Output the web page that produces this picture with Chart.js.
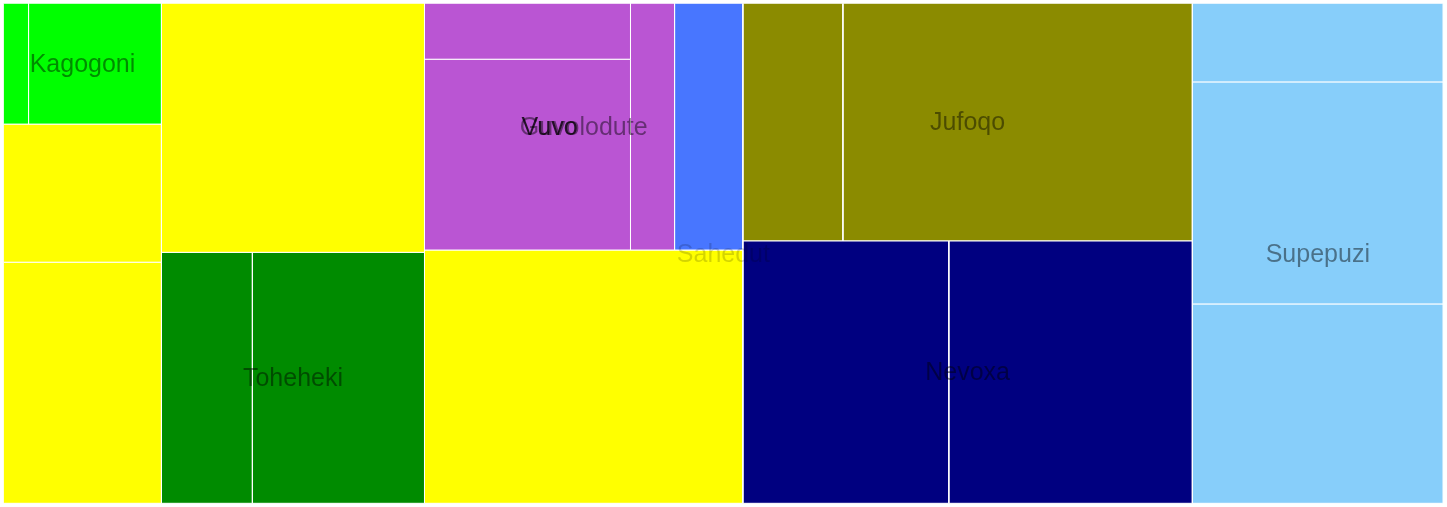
<!DOCTYPE html>
<html>
<head>
<meta charset="utf-8">
<script src="https://cdn.jsdelivr.net/npm/chart.js@4.4.1/dist/chart.umd.min.js"></script>
<style>
html,body{margin:0;padding:0;background:#ffffff;}
canvas{display:block;}
</style>
</head>
<body>
<canvas id="c" width="1447" height="507"></canvas>
<script>
// ---- data (hierarchy in data order) ----
const nodeIds     = ['Sahedut','Kagogoni','k1','k2','r1','r2','r3','Toheheki','t1','t2','Guvolodute','Vuvo','v1','v2','v3','g1','r4','Jufoqo','j1','j2','Nevoxa','n1','n2','Supepuzi','s1','s2','s3'];
const nodeLabels  = ['Sahedut','Kagogoni','','','','','','Toheheki','','','Guvolodute','Vuvo','','','','','','Jufoqo','','','Nevoxa','','','Supepuzi','','',''];
const nodeParents = ['','Sahedut','Kagogoni','Kagogoni','Sahedut','Sahedut','Sahedut','Sahedut','Toheheki','Toheheki','Sahedut','Guvolodute','Vuvo','Vuvo','Vuvo','Guvolodute','Sahedut','Sahedut','Jufoqo','Jufoqo','Sahedut','Nevoxa','Nevoxa','Sahedut','Supepuzi','Supepuzi','Supepuzi'];
const nodeValues  = [0,0,0.42,2.23,3.03,5.29,9.10,0,3.17,6.00,0,0,1.60,5.46,1.51,2.34,11.20,0,3.30,11.53,0,7.51,8.88,0,2.74,7.74,6.95];
// leaf colour is taken from its parent group
const groupNames  = ['Sahedut','Kagogoni','Toheheki','Vuvo','Guvolodute','Jufoqo','Nevoxa','Supepuzi'];
const groupColors = ['#FFFF00','#00FF00','#008B00','#BA55D3','#4876FF','#8B8B00','#000080','#87CEFA'];

// ---- build tree ----
const nodes = nodeIds.map((id,i)=>({id, label:nodeLabels[i], parent:nodeParents[i], own:nodeValues[i], children:[]}));
const byId = {};
nodes.forEach(n=>byId[n.id]=n);
let root = null;
nodes.forEach(n=>{ if(n.parent) byId[n.parent].children.push(n); else root = n; });
function total(n){ n.value = n.children.length ? n.children.reduce((a,c)=>a+total(c),0) : n.own; return n.value; }
total(root);
function setDepth(n,d){ n.depth=d; n.children.forEach(c=>setDepth(c,d+1)); }
setDepth(root,0);

// ---- squarified layout in data units ----
const W = 1440, H = 500;
function worst(areas, side){
  const s = areas.reduce((a,b)=>a+b,0);
  const mx = Math.max(...areas), mn = Math.min(...areas);
  return Math.max(side*side*mx/(s*s), (s*s)/(side*side*mn));
}
function layout(n, x, y, w, h){
  n.rect = {x,y,w,h};
  if(!n.children.length) return;
  const scale = (w*h)/n.value;
  const items = n.children.map(c=>({node:c, area:c.value*scale}));
  let i = 0;
  while(i < items.length){
    const side = Math.min(w,h);
    let row = [items[i]];
    let j = i+1;
    while(j < items.length){
      const cand = row.concat([items[j]]);
      if(worst(cand.map(t=>t.area), side) <= worst(row.map(t=>t.area), side)){ row = cand; j++; }
      else break;
    }
    const s = row.reduce((a,t)=>a+t.area,0);
    if(w >= h){
      const cw = s/h; let cy = y;
      row.forEach(t=>{ const ih = t.area/cw; layout(t.node, x, cy, cw, ih); cy += ih; });
      x += cw; w -= cw;
    } else {
      const rh = s/w; let cx = x;
      row.forEach(t=>{ const iw = t.area/rh; layout(t.node, cx, y, iw, rh); cx += iw; });
      y += rh; h -= rh;
    }
    i = j;
  }
}
layout(root, 0, 0, W, H);

// ---- datasets: one closed shape per leaf ----
const leaves = nodes.filter(n=>!n.children.length);
const datasets = leaves.map(n=>{
  const r = n.rect;
  return {
    label: n.id,
    data: [{x:r.x,y:r.y},{x:r.x+r.w,y:r.y},{x:r.x+r.w,y:r.y+r.h},{x:r.x,y:r.y+r.h},{x:r.x,y:r.y}],
    backgroundColor: groupColors[groupNames.indexOf(n.parent)],
    borderColor: '#ffffff',
    borderWidth: 1,
    fill: 'shape',
    pointRadius: 0,
    pointHoverRadius: 0,
    tension: 0,
    borderJoinStyle: 'miter'
  };
});

const labelAlpha = [0.17, 0.45, 0.8];
const fontSize = 25;
const groupLabelPlugin = {
  id: 'groupLabels',
  afterDatasetsDraw(chart){
    const ctx = chart.ctx, xs = chart.scales.x, ys = chart.scales.y;
    ctx.save();
    ctx.font = fontSize + 'px "Liberation Sans", Arial, sans-serif';
    ctx.textAlign = 'center';
    ctx.textBaseline = 'alphabetic';
    nodes.filter(n=>n.children.length && n.label).forEach(n=>{
      const r = n.rect;
      const px = xs.getPixelForValue(r.x + r.w/2);
      const py = ys.getPixelForValue(r.y + r.h/2);
      ctx.fillStyle = 'rgba(0,0,0,' + labelAlpha[Math.min(n.depth,2)] + ')';
      ctx.fillText(n.label, px, py + fontSize*0.33);
    });
    ctx.restore();
  }
};

new Chart(document.getElementById('c'), {
  type: 'line',
  data: { datasets },
  options: {
    responsive: false,
    animation: false,
    layout: { padding: { left: 3.5, top: 3.3, right: 3.7, bottom: 3.7 } },
    plugins: { legend: {display:false}, tooltip: {enabled:false} },
    events: [],
    scales: {
      x: { type:'linear', min:0, max:W, display:false },
      y: { type:'linear', min:0, max:H, reverse:true, display:false }
    }
  },
  plugins: [groupLabelPlugin]
});
</script>
</body>
</html>
